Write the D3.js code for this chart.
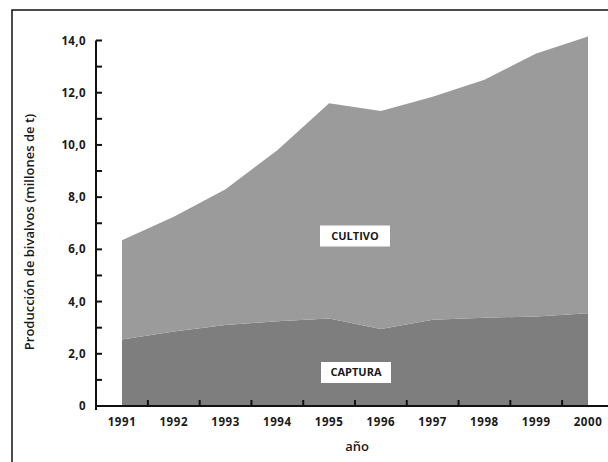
<!DOCTYPE html>
<html>
<head>
<meta charset="utf-8">
<script src="https://cdn.jsdelivr.net/npm/d3@7"></script>
<style>
  body { margin: 0; background: #fff; }
  text { font-family: "Open Sans", sans-serif; fill: #1a1a1a; }
</style>
</head>
<body>
<div id="chart"></div>
<script>
// data (millones de t)
let years = [1991, 1992, 1993, 1994, 1995, 1996, 1997, 1998, 1999, 2000];
let captura = [2.55, 2.85, 3.1, 3.25, 3.35, 2.95, 3.3, 3.38, 3.43, 3.55];
let cultivo = [3.8, 4.4, 5.2, 6.55, 8.25, 8.35, 8.55, 9.12, 10.07, 10.6];
let yTicks = [0, 2, 4, 6, 8, 10, 12, 14];
let yMinor = [1, 3, 5, 7, 9, 11, 13];

let svgWidth = 608;
let svgHeight = 462;

let svg = d3.select("#chart")
  .append("svg")
  .attr("width", svgWidth)
  .attr("height", svgHeight);

// outer frame (cropped at right and bottom)
svg.append("rect")
  .attr("x", 12).attr("y", 10)
  .attr("width", 640).attr("height", 500)
  .attr("fill", "none")
  .attr("stroke", "#111")
  .attr("stroke-width", 1.5);

let rows = years.map((y, i) => ({ year: y, captura: captura[i], cultivo: cultivo[i] }));
let series = d3.stack().keys(["captura", "cultivo"])(rows);

let x = d3.scaleLinear().domain([1991, 2000]).range([122, 588]);
let y = d3.scaleLinear().domain([0, 14]).range([406, 40.5]);

let colors = { captura: "#7e7e7e", cultivo: "#9b9b9b" };

let area = d3.area()
  .x(d => x(d.data.year))
  .y0(d => y(d[0]))
  .y1(d => y(d[1]))
  .curve(d3.curveLinear);

svg.selectAll(".layer")
  .data(series)
  .enter()
  .append("path")
  .attr("class", "layer")
  .attr("d", area)
  .attr("fill", d => colors[d.key]);

// y axis line + ticks pointing inward
svg.append("line")
  .attr("x1", 96).attr("x2", 96)
  .attr("y1", y(14)).attr("y2", y(0) + 4)
  .attr("stroke", "#111").attr("stroke-width", 2);

svg.selectAll(".ytick")
  .data(yTicks.concat(yMinor))
  .enter()
  .append("line")
  .attr("x1", 96).attr("x2", 102)
  .attr("y1", d => y(d)).attr("y2", d => y(d))
  .attr("stroke", "#111").attr("stroke-width", 2);

svg.selectAll(".ylab")
  .data(yTicks)
  .enter()
  .append("text")
  .attr("x", 86)
  .attr("y", d => y(d))
  .attr("dy", "0.35em")
  .attr("text-anchor", "end")
  .style("font-size", "11.5px")
  .style("font-weight", 700)
  .style("letter-spacing", "0.4px")
  .text(d => d === 0 ? "0" : d3.format(".1f")(d).replace(".", ","));

// x axis line + ticks between years
svg.append("line")
  .attr("x1", 95).attr("x2", 608)
  .attr("y1", y(0)).attr("y2", y(0))
  .attr("stroke", "#111").attr("stroke-width", 2);

svg.selectAll(".xtick")
  .data(years.slice(0, -1))
  .enter()
  .append("line")
  .attr("x1", d => x(d + 0.5)).attr("x2", d => x(d + 0.5))
  .attr("y1", y(0)).attr("y2", y(0) - 6)
  .attr("stroke", "#111").attr("stroke-width", 2);

svg.selectAll(".xlab")
  .data(years)
  .enter()
  .append("text")
  .attr("x", d => x(d))
  .attr("y", 426)
  .attr("text-anchor", "middle")
  .style("font-size", "11.5px")
  .style("font-weight", 700)
  .style("letter-spacing", "0.6px")
  .text(d => d);

// axis titles
svg.append("text")
  .attr("x", 357).attr("y", 451)
  .attr("text-anchor", "middle")
  .style("font-size", "13px")
  .style("font-weight", 600)
  .text("año");

svg.append("text")
  .attr("transform", "translate(34, 232) rotate(-90)")
  .attr("text-anchor", "middle")
  .style("font-size", "13px")
  .style("font-weight", 600)
  .text("Producción de bivalvos (millones de t)");

// boxed labels
let labels = [
  { text: "CULTIVO", cx: 355, cy: 236 },
  { text: "CAPTURA", cx: 356, cy: 372.5 }
];
labels.forEach(l => {
  let g = svg.append("g").attr("transform", `translate(${l.cx}, ${l.cy})`);
  g.append("rect")
    .attr("x", -35).attr("y", -10.5)
    .attr("width", 70).attr("height", 21)
    .attr("fill", "#fff");
  g.append("text")
    .attr("text-anchor", "middle")
    .attr("dy", "0.35em")
    .style("font-size", "11px")
    .style("font-weight", 700)
    .text(l.text);
});
</script>
</body>
</html>
